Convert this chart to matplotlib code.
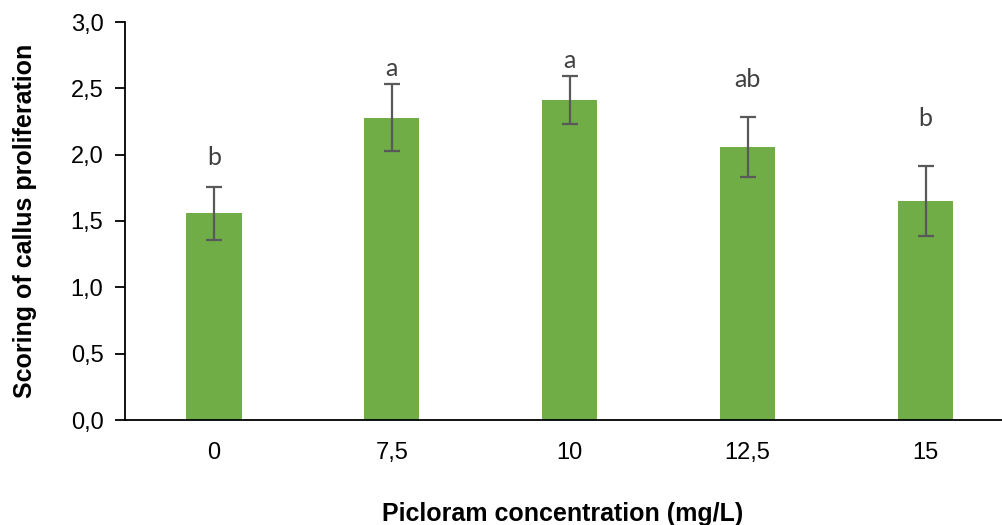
import matplotlib.pyplot as plt
from matplotlib.ticker import FuncFormatter

# Data
concentrations = ['0', '7,5', '10', '12,5', '15']
scores = [1.56, 2.28, 2.41, 2.06, 1.65]
errors = [0.20, 0.25, 0.18, 0.225, 0.265]
letters = ['b', 'a', 'a', 'ab', 'b']
letter_y = [1.975, 2.646, 2.713, 2.57, 2.276]

plt.rcParams['font.family'] = ['Liberation Sans', 'DejaVu Sans']

fig = plt.figure(figsize=(10.02, 5.25), dpi=100)
ax = fig.add_axes([125 / 1002, 1 - 420 / 525, 877 / 1002, 398 / 525])

x = range(len(concentrations))
ax.bar(x, scores, width=0.31, color='#70AD47', zorder=2)
ax.errorbar(x, scores, yerr=errors, fmt='none', ecolor='#595959',
            elinewidth=1.6, capsize=5.5, capthick=1.6, zorder=3)

for i, (lab, ly) in enumerate(zip(letters, letter_y)):
    ax.text(i, ly, lab, ha='center', va='center', fontsize=18,
            color='#404040', family=['Lato', 'DejaVu Sans'])

ax.set_ylim(0, 3.0)
ax.set_xlim(-0.5, 4.43)
ax.set_yticks([0, 0.5, 1.0, 1.5, 2.0, 2.5, 3.0])
ax.yaxis.set_major_formatter(FuncFormatter(lambda v, p: f'{v:.1f}'.replace('.', ',')))
ax.set_xticks(list(x))
ax.set_xticklabels(concentrations)

for s in ['top', 'right']:
    ax.spines[s].set_visible(False)
ax.spines['left'].set_linewidth(1.3)
ax.spines['bottom'].set_linewidth(1.3)

ax.tick_params(axis='y', length=7, width=1.3, labelsize=17, pad=8.5)
ax.tick_params(axis='x', length=0, labelsize=17, pad=16)

ax.set_ylabel('Scoring of callus proliferation', fontsize=18, fontweight='bold')
ax.set_xlabel('Picloram concentration (mg/L)', fontsize=18, fontweight='bold')
ax.xaxis.set_label_coords((563 - 125) / 877, -(502 - 420) / 398)
ax.yaxis.set_label_coords(-(125 - 37) / 877, (420 - 221) / 398)

fig.savefig('out.png', dpi=100)
